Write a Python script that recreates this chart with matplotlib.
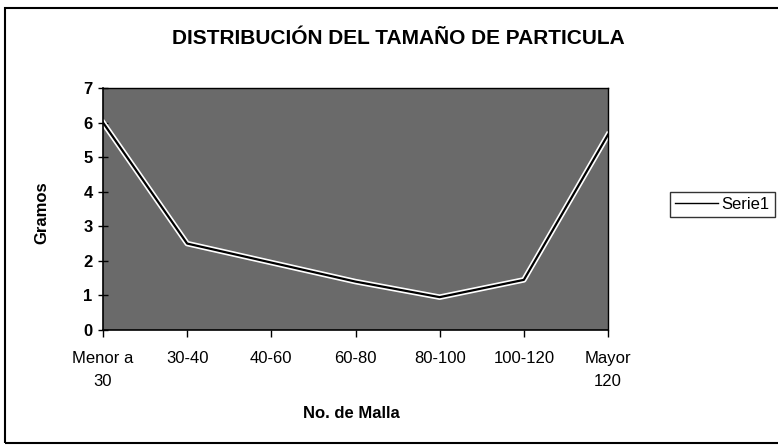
import matplotlib
matplotlib.use("Agg")
import matplotlib.pyplot as plt
from matplotlib import font_manager
import matplotlib.patheffects as pe
from matplotlib.patches import Rectangle

categories = ["Menor a\n30", "30-40", "40-60", "60-80", "80-100", "100-120", "Mayor\n120"]
values = [6.0, 2.5, 1.95, 1.4, 0.95, 1.45, 5.65]
yticks = [0, 1, 2, 3, 4, 5, 6, 7]

names = {f.name for f in font_manager.fontManager.ttflist}
fam = ["Liberation Sans Narrow", "Liberation Sans", "DejaVu Sans"] if "Liberation Sans Narrow" in names else ["Liberation Sans", "DejaVu Sans"]
plt.rcParams['font.family'] = fam

W, H = 778, 448
fig = plt.figure(figsize=(W/100, H/100), dpi=100)
fig.patch.set_facecolor("white")

# outer chart border
fig.patches.append(Rectangle((5/W, 1-443/H), 1.05, (443-8)/H, transform=fig.transFigure,
                             fill=False, edgecolor="black", linewidth=1.5))

ax = fig.add_axes([103/W, 1-330/H, (608-103)/W, (330-88)/H])
ax.set_facecolor("#6a6a6a")

x = list(range(len(categories)))
line, = ax.plot(x, values, color="black", linewidth=1.6, label="Serie1",
                path_effects=[pe.Stroke(linewidth=4.0, foreground="white"), pe.Normal()])

ax.set_xlim(0, len(categories)-1)
ax.set_ylim(0, 7)
ax.set_yticks(yticks)
ax.set_xticks(x)
ax.set_xticklabels(categories, fontsize=12, linespacing=1.65, va="top")
ax.set_yticklabels([str(v) for v in yticks], fontsize=12, fontweight="bold")
ax.tick_params(axis="x", direction="out", length=5, width=1, pad=10)
ax.tick_params(axis="y", direction="inout", length=7, width=1, pad=4)
for s in ["top", "right"]:
    ax.spines[s].set_linewidth(1.0)
for s in ["left", "bottom"]:
    ax.spines[s].set_linewidth(1.2)

fig.text(398/W, 1-38/H, "DISTRIBUCIÓN DEL TAMAÑO DE PARTICULA", ha="center", va="center",
         fontsize=15, fontweight="bold")
fig.text(42/W, 1-213/H, "Gramos", ha="center", va="center", rotation=90,
         fontsize=12, fontweight="bold")
fig.text(351/W, 1-413/H, "No. de Malla", ha="center", va="center",
         fontsize=12, fontweight="bold")

leg = fig.legend(handles=[line], labels=["Serie1"], loc="center left",
                 bbox_to_anchor=(670/W, 1-204.5/H), frameon=True, fancybox=False,
                 fontsize=12, handlelength=2.6, borderpad=0.3, handletextpad=0.2,
                 borderaxespad=0)
leg.get_frame().set_edgecolor("black")
leg.get_frame().set_linewidth(1.0)
leg.legend_handles[0].set_path_effects([pe.Normal()])
leg.legend_handles[0].set_linewidth(1.0)

fig.savefig("out.png", dpi=100)
